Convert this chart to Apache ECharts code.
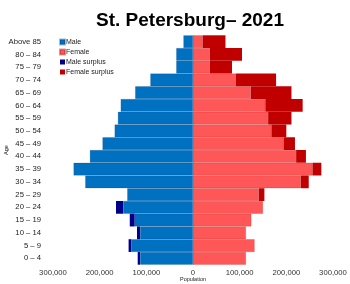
<!DOCTYPE html>
<html>
<head>
<meta charset="utf-8">
<script src="https://cdn.jsdelivr.net/npm/echarts@6/dist/echarts.min.js"></script>
<style>
html,body{margin:0;padding:0;background:#fff;}
#chart{width:350px;height:284px;}
</style>
</head>
<body>
<div id="chart"></div>
<script>
// Age groups, bottom to top
const ageGroups = ['0 – 4','5 – 9','10 – 14','15 – 19','20 – 24','25 – 29','30 – 34','35 – 39','40 – 44','45 – 49','50 – 54','55 – 59','60 – 64','65 – 69','70 – 74','75 – 79','80 – 84','Above 85'];
// Population by sex
const male   = [118500,138000,120000,135500,165000,141000,231000,256000,221000,194000,168000,161000,155000,124000,91500,36000,36000,20600];
const female = [113500,132000,113500,125000,150000,153000,248000,275000,242000,218500,200000,211000,235000,211000,178000,83600,105000,69600];

const common = male.map((m,i)=>Math.min(m,female[i]));
const maleSurplus = male.map((m,i)=>Math.max(0,m-female[i]));
const femaleSurplus = female.map((f,i)=>Math.max(0,f-male[i]));

const fmt = v => Math.abs(v).toString().replace(/\B(?=(\d{3})+(?!\d))/g, ',');

const chart = echarts.init(document.getElementById('chart'), null, {renderer:'canvas'});
const barBase = {type:'bar', stack:'total', barCategoryGap:'0%', barGap:'0%'};
chart.setOption({
  animation:false,
  textStyle:{fontFamily:'Liberation Sans, Arial, sans-serif'},
  title:{
    text:'St. Petersburg– 2021', left:185, top:6, textAlign:'center',
    textStyle:{fontSize:19, fontWeight:'bold', color:'#000', fontFamily:'Liberation Sans, Arial, sans-serif'}
  },
  legend:{
    orient:'vertical', left:59, top:37, padding:0, itemWidth:5, itemHeight:5, itemGap:0,
    icon:'rect',
    textStyle:{fontSize:7, lineHeight:10, color:'#222', padding:[0,0,0,-4]},
    data:['Male','Female','Male surplus','Female surplus']
  },
  grid:{left:53, right:17, top:35.3, bottom:19.3, containLabel:false, outerBoundsMode:'none'},
  xAxis:{
    type:'value', min:-300000, max:300000, interval:100000,
    axisLine:{show:false}, axisTick:{show:false}, splitLine:{show:false},
    axisLabel:{fontSize:7.7, color:'#333', margin:4, formatter:fmt},
    name:'Population', nameLocation:'middle', nameGap:15, nameMoveOverlap:false,
    nameTextStyle:{fontSize:5.5, color:'#222', verticalAlign:'middle', padding:0}
  },
  yAxis:{
    type:'category', data:ageGroups,
    axisLine:{show:false, onZero:false}, axisTick:{show:false},
    axisLabel:{fontSize:7.7, color:'#222', margin:12},
    name:'Age', nameLocation:'middle', nameRotate:90, nameGap:44, nameMoveOverlap:false,
    nameTextStyle:{fontSize:5.5, color:'#222'}
  },
  series:[
    Object.assign({}, barBase, {name:'Male', data:common.map(v=>-v),
      itemStyle:{color:'#0070c0', borderColor:'rgba(0,60,120,0.35)', borderWidth:0.5},
      markLine:{silent:true, symbol:'none', label:{show:false},
        lineStyle:{color:'#777', width:1, type:'solid', opacity:0.7},
        data:[{xAxis:0}]}}),
    Object.assign({}, barBase, {name:'Female', data:common,
      itemStyle:{color:'#ff5757', borderColor:'rgba(170,30,30,0.45)', borderWidth:0.5}}),
    Object.assign({}, barBase, {name:'Male surplus', data:maleSurplus.map(v=>-v),
      itemStyle:{color:'#00008b'}}),
    Object.assign({}, barBase, {name:'Female surplus', data:femaleSurplus,
      itemStyle:{color:'#c00000'}})
  ]
});
</script>
</body>
</html>
